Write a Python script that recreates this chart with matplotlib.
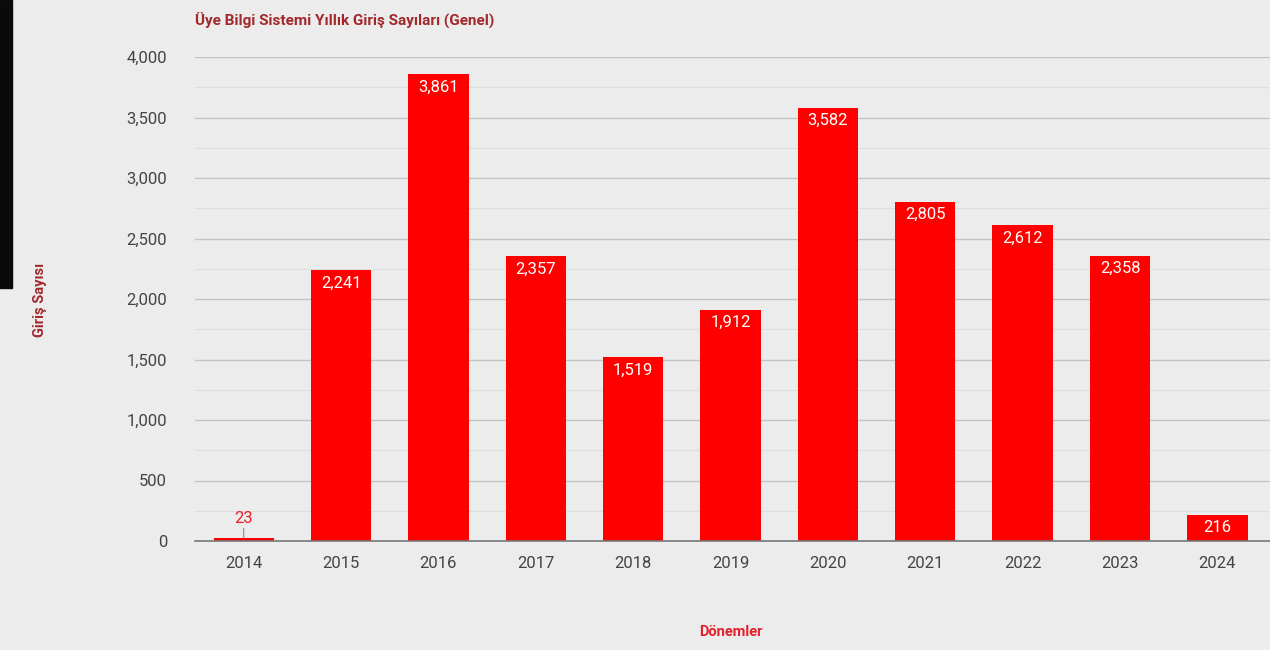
"""
Üye Bilgi Sistemi yearly login counts - bar chart.
"""
import matplotlib
matplotlib.use("Agg")
import matplotlib.pyplot as plt
from matplotlib.patches import Rectangle
from matplotlib.ticker import MultipleLocator, FuncFormatter

# Data
years = ['2014', '2015', '2016', '2017', '2018', '2019',
         '2020', '2021', '2022', '2023', '2024']
logins = [23, 2241, 3861, 2357, 1519, 1912, 3582, 2805, 2612, 2358, 216]

title = 'Üye Bilgi Sistemi Yıllık Giriş Sayıları (Genel)'
x_label = 'Dönemler'
y_label = 'Giriş Sayısı'

bar_color = '#ff0000'
dark_red = '#a3282c'
tick_color = '#444444'

plt.rcParams['font.family'] = ['Roboto', 'DejaVu Sans']

fig = plt.figure(figsize=(12.7, 6.5), dpi=100)
fig.patch.set_facecolor('#ececec')

# dark strip on the left edge of the screenshot
fig.patches.append(Rectangle((0, 1 - 288 / 650), 12 / 1270, 288 / 650,
                             transform=fig.transFigure, color='#0a0a0a', zorder=0))

ax = fig.add_axes([195 / 1270, 109 / 650, 1 - 195 / 1270, (541 - 57) / 650])
ax.set_facecolor('none')

x = list(range(len(years)))
bars = ax.bar(x, logins, width=0.62, color=bar_color, zorder=3)

ax.set_xlim(-0.5, 10.54)
ax.set_ylim(0, 4000)

ax.yaxis.set_major_locator(MultipleLocator(500))
ax.yaxis.set_minor_locator(MultipleLocator(250))
ax.yaxis.set_major_formatter(FuncFormatter(lambda v, p: f'{int(v):,}'))
ax.grid(axis='y', which='major', color='#c4c4c4', linewidth=1, zorder=0)
ax.grid(axis='y', which='minor', color='#dedede', linewidth=0.8, zorder=0)

ax.set_xticks(x)
ax.set_xticklabels(years)
ax.tick_params(axis='both', which='both', length=0, labelsize=12,
               labelcolor=tick_color)
ax.tick_params(axis='x', pad=11)
ax.tick_params(axis='y', pad=20)

for side in ['top', 'right', 'left']:
    ax.spines[side].set_visible(False)
ax.spines['bottom'].set_color('#777777')
ax.spines['bottom'].set_linewidth(1.2)
ax.spines['bottom'].set_zorder(4)

# value labels
for xi, v in zip(x, logins):
    if v < 150:
        ax.annotate(f'{v:,}', xy=(xi, v), xytext=(0, 9), textcoords='offset points',
                    ha='center', va='bottom', fontsize=12, color='#e8202a',
                    arrowprops=dict(arrowstyle='-', color='#888888', lw=0.8,
                                    shrinkA=0, shrinkB=0))
    else:
        ax.annotate(f'{v:,}', xy=(xi, v), xytext=(0, -4), textcoords='offset points',
                    ha='center', va='top', fontsize=12, color='white', zorder=5)

fig.text(195 / 1270, 1 - 20 / 650, title, ha='left', va='center',
         fontsize=11, fontweight='bold', color=dark_red)
fig.text(40 / 1270, 1 - 300 / 650, y_label, ha='center', va='center',
         rotation=90, fontsize=10.5, fontweight='bold', color=dark_red)
fig.text(731 / 1270, 1 - 632 / 650, x_label, ha='center', va='center',
         fontsize=10.5, fontweight='bold', color='#e3202b')

fig.savefig('out.png', dpi=100, facecolor=fig.get_facecolor())
